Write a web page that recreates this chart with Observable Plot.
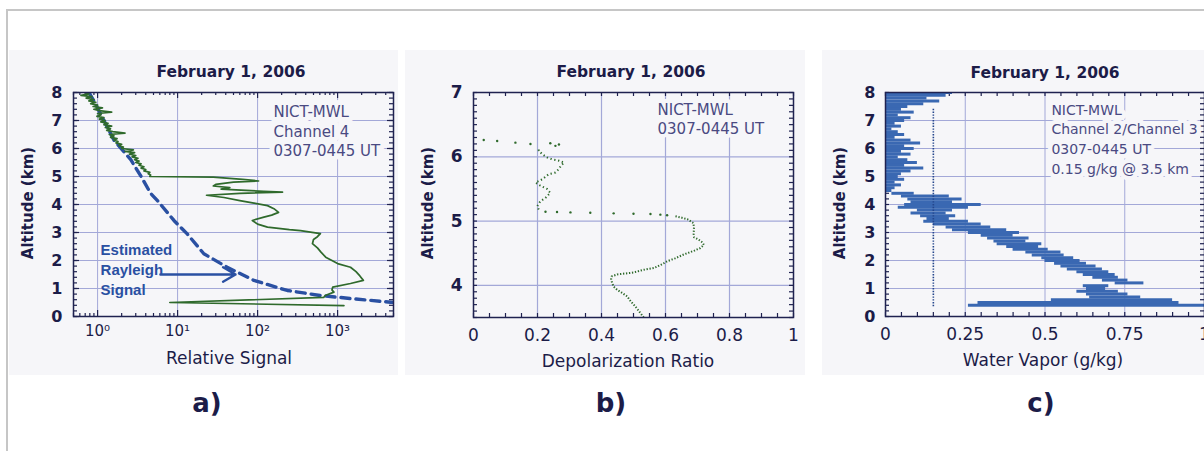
<!DOCTYPE html>
<html><head><meta charset="utf-8">
<script src="https://cdn.jsdelivr.net/npm/d3@7"></script>
<script src="https://cdn.jsdelivr.net/npm/@observablehq/plot@0.6"></script>
<style>
html,body{margin:0;padding:0;background:#fff;}
#wrap{position:relative;width:1204px;height:451px;overflow:hidden;background:#fff;font-family:"DejaVu Sans",sans-serif;color:#1c1c48;}
.bt{position:absolute;left:6px;top:9px;width:1198px;height:2px;background:#c6c6c6;}
.bl{position:absolute;left:6px;top:9px;width:2px;height:442px;background:#c6c6c6;}
.panel{position:absolute;top:50px;height:325px;background:#f6f6f9;}
.lbl{position:absolute;transform:translate(-50%,-50%);white-space:nowrap;line-height:1;}
.title{font-size:15.5px;font-weight:bold;}
.xl{font-size:17px;}
.yl{font-size:15px;font-weight:bold;transform:translate(-50%,-50%) rotate(-90deg);}
.tag{font-size:26px;font-weight:bold;}
svg.plot-svg{position:absolute;top:50px;}
</style></head>
<body><div id="wrap">
<div class="bt"></div><div class="bl"></div>
<div class="panel" style="left:9px;width:389px"></div>
<div class="panel" style="left:405px;width:400px"></div>
<div class="panel" style="left:822px;width:390px"></div>
</div>
<script>
// ---------- data ----------
const panelTitle = "February 1, 2006";
const panelTags = ["a)", "b)", "c)"];
const xLabels = ["Relative Signal", "Depolarization Ratio", "Water Vapor (g/kg)"];
const yLabel = "Altitude (km)";
const annoA = "NICT-MWL\nChannel 4\n0307-0445 UT";
const annoB = "NICT-MWL\n0307-0445 UT";
const annoC = "NICT-MWL\nChannel 2/Channel 3\n0307-0445 UT\n0.15 g/kg @ 3.5 km";
const rayleighText = "Estimated\nRayleigh\nSignal";

// panel a: [altitude km, relative signal]
const signalProfile = [
 [8.0,0.7],[7.95,0.78],[7.9,0.62],[7.85,0.85],[7.8,0.72],[7.75,0.9],[7.7,0.78],[7.65,0.95],[7.6,0.82],[7.55,1.0],
 [7.5,0.88],[7.45,1.15],[7.4,0.9],[7.35,1.05],[7.3,1.5],[7.25,1.0],[7.2,1.1],[7.15,0.98],[7.1,1.2],[7.05,1.05],
 [7.0,1.25],[6.95,1.1],[6.9,1.35],[6.85,1.2],[6.8,1.5],[6.75,1.25],[6.7,1.45],[6.65,1.3],[6.6,1.55],[6.55,2.2],
 [6.5,1.4],[6.45,1.6],[6.4,1.45],[6.35,1.75],[6.3,1.6],[6.25,1.8],[6.2,1.7],[6.15,2.0],[6.1,1.85],[6.05,2.1],
 [6.0,2.0],[5.95,2.8],[5.9,2.2],[5.85,2.9],[5.8,2.5],[5.75,3.0],[5.7,2.7],[5.65,3.2],[5.6,2.9],[5.55,3.3],
 [5.5,3.0],[5.45,3.5],[5.4,3.3],[5.35,3.8],[5.3,3.5],[5.25,4.0],[5.2,3.8],[5.15,4.5],[5.1,4.3],[5.05,4.6],
 [5.0,4.5],[4.98,28],[4.9,65],[4.84,103],[4.8,50],[4.72,30],[4.66,28],[4.6,45],[4.55,35],[4.47,120],
 [4.44,205],[4.4,60],[4.33,23],[4.25,38],[4.14,60],[4.05,90],[3.96,133],[3.85,160],[3.72,183],[3.62,150],
 [3.55,120],[3.43,86],[3.3,100],[3.19,133],[3.1,250],[3.07,344],[2.96,610],[2.85,560],[2.75,500],[2.6,485],
 [2.45,560],[2.3,620],[2.12,710],[2.0,850],[1.89,1000],[1.76,1450],[1.6,1700],[1.45,1900],[1.29,2100],[1.18,1450],
 [1.05,870],[0.95,850],[0.87,900],[0.75,700],[0.68,670],[0.5,8],[0.39,1200]
];
// panel a: estimated Rayleigh signal [altitude km, relative signal]
const rayleighProfile = [
 [8,0.78],[7.7,0.9],[7,1.2],[6.3,1.6],[5.6,2.6],[5,3.5],[4.4,4.6],[4.14,5.6],[3.43,9.0],[2.95,13.2],
 [2.24,21.3],[1.76,41.7],[1.29,90],[0.93,235],[0.75,610],[0.63,1600],[0.51,4600],[0.49,5600]
];
const rayleighArrow = [{from: 6.1, to: 53, alt: 1.5}];
const rayleighLabelPos = [{x: 1.09, y: 1.71}];

// panel b: depolarization ratio [ratio, altitude km]
const depolLower = [
 [0.532,3.5],[0.52,3.58],[0.506,3.67],[0.49,3.76],[0.48,3.83],[0.462,3.89],[0.449,3.93],[0.438,3.98],[0.433,4.04],[0.43,4.1],
 [0.432,4.14],[0.449,4.17],[0.5,4.2],[0.53,4.24],[0.564,4.27],[0.59,4.33],[0.605,4.375],[0.63,4.42],[0.657,4.48],[0.69,4.54],
 [0.709,4.58],[0.72,4.63],[0.715,4.67],[0.704,4.71],[0.689,4.75],[0.688,4.8],[0.689,4.9],[0.687,4.97],[0.668,5.03],[0.645,5.06],[0.626,5.08]
];
const depolUpper = [
 [0.204,5.18],[0.199,5.23],[0.209,5.31],[0.225,5.36],[0.24,5.44],[0.23,5.5],[0.209,5.55],[0.194,5.6],[0.215,5.65],[0.235,5.73],
 [0.256,5.755],[0.267,5.81],[0.273,5.86],[0.283,5.91],[0.267,5.94],[0.246,5.96],[0.23,5.99],[0.215,6.04],[0.204,6.094],[0.204,6.12]
];
const depolSparse = [
 [0.605,5.09],[0.584,5.1],[0.553,5.11],[0.5,5.115],[0.438,5.12],[0.365,5.13],[0.303,5.135],[0.261,5.14],[0.225,5.146],
 [0.24,6.21],[0.256,6.17],[0.267,6.19],
 [0.178,6.2],[0.131,6.22],[0.074,6.245],[0.032,6.26]
];

// panel c: water vapor rows [altitude km, low g/kg, high g/kg]
const wvRows = [
 [8.0,0,0.21],[7.9,0,0.19],[7.8,0,0.13],[7.7,0,0.17],[7.6,0,0.12],[7.5,0,0.07],[7.4,0,0.05],[7.3,0,0.09],[7.2,0,0.04],[7.1,0,0.08],
 [7.0,0,0.06],[6.9,0,0.03],[6.8,0,0.05],[6.7,0,0.02],[6.6,0,0.04],[6.5,0,0.06],[6.4,0,0.03],[6.3,0,0.08],[6.2,0,0.11],[6.1,0,0.06],
 [6.0,0,0.09],[5.9,0,0.05],[5.8,0,0.08],[5.7,0,0.04],[5.6,0,0.07],[5.5,0,0.10],[5.4,0,0.06],[5.3,0,0.12],[5.2,0,0.08],[5.1,0,0.05],
 [5.0,0,0.04],[4.9,0,0.06],[4.8,0,0.03],[4.7,0,0.05],[4.6,0,0.03],[4.5,0,0.02],[4.4,0.02,0.09],[4.3,0.05,0.20],[4.2,0.07,0.24],[4.1,0.08,0.21],
 [4.0,0.06,0.30],[3.9,0.04,0.26],[3.8,0.10,0.21],[3.7,0.08,0.19],[3.6,0.11,0.22],[3.5,0.13,0.20],[3.4,0.12,0.26],[3.3,0.15,0.30],[3.2,0.19,0.33],[3.1,0.21,0.38],
 [3.0,0.26,0.42],[2.9,0.30,0.40],[2.8,0.32,0.45],[2.7,0.34,0.44],[2.6,0.35,0.49],[2.5,0.38,0.48],[2.4,0.40,0.51],[2.3,0.44,0.55],[2.2,0.46,0.56],[2.1,0.49,0.59],
 [2.0,0.50,0.61],[1.9,0.53,0.63],[1.8,0.55,0.66],[1.7,0.57,0.68],[1.6,0.60,0.70],[1.5,0.62,0.72],[1.4,0.65,0.73],[1.3,0.68,0.76],[1.2,0.72,0.81],[1.1,0.62,0.70],
 [1.0,0.63,0.69],[0.9,0.60,0.73],[0.8,0.63,0.76],[0.7,0.64,0.80],[0.6,0.52,0.90],[0.5,0.29,0.92],[0.4,0.26,1.02]
];
const wvReference = [{value: 0.15, from: 0.35, to: 7.45}];

// tick values
const sigMajor = [1, 10, 100, 1000];
const depolTicks = [0, 0.2, 0.4, 0.6, 0.8, 1];
const wvTicks = [0, 0.25, 0.5, 0.75, 1];
const altTicks8 = [0,1,2,3,4,5,6,7,8];
const altTicksB = [4,5,6,7];

// ---------- style ----------
const GRID = "#a3a8d8", FRAME = "#1f2250", GREEN = "#2f6a2c", BLUE = "#2a50a2", WV = "#3a68b2", TXT = "#1c1c48", ANNO = "#4a4a82", BG = "#f6f6f9";
const baseStyle = {background: "transparent", fontFamily: "DejaVu Sans", fontSize: "15px", color: TXT, overflow: "visible"};
const sup = {"0":"\u2070","1":"\u00b9","2":"\u00b2","3":"\u00b3"};

function edgeTicks(xs, ys, lenX, lenY, pw, ph) {
  return [
    Plot.tickX(xs, {x: d => d, insetTop: ph - lenX, stroke: FRAME, strokeWidth: 1.2}),
    Plot.tickX(xs, {x: d => d, insetBottom: ph - lenX, stroke: FRAME, strokeWidth: 1.2}),
    Plot.tickY(ys, {y: d => d, insetRight: pw - lenY, stroke: FRAME, strokeWidth: 1.2}),
    Plot.tickY(ys, {y: d => d, insetLeft: pw - lenY, stroke: FRAME, strokeWidth: 1.2})
  ];
}
const round = v => +v.toFixed(3);

// ---------- panel a ----------
{
  const W = 390, H = 325, ML = 65, MR = 5, MT = 42, MB = 59, PW = W - ML - MR, PH = H - MT - MB;
  const logMinor = [];
  for (let e = -1; e <= 3; e++) for (let m = 2; m <= 9; m++) { const v = round(m * 10 ** e); if (v >= 0.5 && v <= 5000) logMinor.push(v); }
  const altMinor = d3.range(0, 8.01, 0.2).map(round);
  const svg = Plot.plot({
    width: W, height: H, marginLeft: ML, marginRight: MR, marginTop: MT, marginBottom: MB,
    style: baseStyle,
    x: {type: "log", domain: [0.5, 5000]},
    y: {domain: [0, 8]},
    marks: [
      Plot.gridX(sigMajor, {stroke: GRID, strokeOpacity: 1, strokeWidth: 1}),
      Plot.gridY(altTicks8, {stroke: GRID, strokeOpacity: 1, strokeWidth: 1}),
      ...edgeTicks(logMinor, altMinor, 3, 4, PW, PH),
      ...edgeTicks(sigMajor, altTicks8, 6, 6, PW, PH),
      Plot.line(rayleighProfile, {x: d => d[1], y: d => d[0], stroke: BLUE, strokeWidth: 3.4, strokeDasharray: "9,6", clip: true}),
      Plot.line(signalProfile, {x: d => d[1], y: d => d[0], stroke: GREEN, strokeWidth: 1.7, clip: true}),
      Plot.arrow(rayleighArrow, {x1: "from", x2: "to", y1: "alt", y2: "alt", stroke: BLUE, strokeWidth: 2.4, headLength: 9}),
      Plot.text(rayleighLabelPos, {x: "x", y: "y", text: () => rayleighText, textAnchor: "start", lineAnchor: "middle", lineHeight: 1.33, fill: BLUE, fontWeight: "bold", fontSize: 15, fontFamily: "Liberation Sans"}),
      Plot.text([annoA], {x: () => 158, y: () => 6.64, text: d => d, textAnchor: "start", lineAnchor: "middle", lineHeight: 1.3, fill: ANNO, stroke: BG, strokeWidth: 10, fontSize: 15}),
      Plot.frame({stroke: FRAME, strokeWidth: 1.5}),
      Plot.axisX(sigMajor, {tickSize: 0, tickPadding: 9, label: null, fontSize: 15, tickFormat: d => "10" + sup[String(Math.round(Math.log10(d)))]}),
      Plot.axisY(altTicks8, {tickSize: 0, tickPadding: 11, label: null, fontSize: 16, fontWeight: "bold", tickFormat: d => String(d)})
    ]
  });
  svg.classList.add("plot-svg"); svg.style.left = "8px";
  document.getElementById("wrap").appendChild(svg);
}

// ---------- panel b ----------
{
  const W = 400, H = 325, ML = 68, MR = 12, MT = 42, MB = 58, PW = W - ML - MR, PH = H - MT - MB;
  const xMinor = d3.range(0, 1.001, 0.05).map(round);
  const yMinor = d3.range(3.5, 7.001, 0.1).map(round);
  const svg = Plot.plot({
    width: W, height: H, marginLeft: ML, marginRight: MR, marginTop: MT, marginBottom: MB,
    style: baseStyle,
    x: {domain: [0, 1]},
    y: {domain: [3.5, 7]},
    marks: [
      Plot.gridX([0.2, 0.4, 0.6, 0.8], {stroke: GRID, strokeOpacity: 1, strokeWidth: 1.2}),
      Plot.gridY([4, 5, 6], {stroke: GRID, strokeOpacity: 1, strokeWidth: 1.2}),
      ...edgeTicks(xMinor, yMinor, 4, 4, PW, PH),
      Plot.line(depolLower, {x: d => d[0], y: d => d[1], stroke: GREEN, strokeWidth: 2, strokeDasharray: "1.3,1.7", strokeLinecap: "butt", clip: true}),
      Plot.line(depolUpper, {x: d => d[0], y: d => d[1], stroke: GREEN, strokeWidth: 2, strokeDasharray: "1.3,2.6", strokeLinecap: "butt", clip: true}),
      Plot.dot(depolSparse, {x: d => d[0], y: d => d[1], r: 1.2, fill: GREEN, stroke: null}),
      Plot.text([annoB], {x: () => 0.575, y: () => 6.6, text: d => d, textAnchor: "start", lineAnchor: "middle", lineHeight: 1.27, fill: ANNO, stroke: BG, strokeWidth: 8, fontSize: 15}),
      Plot.frame({stroke: FRAME, strokeWidth: 1.5}),
      Plot.axisX(depolTicks, {tickSize: 0, tickPadding: 11, label: null, fontSize: 17, tickFormat: d => String(d)}),
      Plot.axisY(altTicksB, {tickSize: 0, tickPadding: 11, label: null, fontSize: 17, fontWeight: "bold", tickFormat: d => String(d)})
    ]
  });
  svg.classList.add("plot-svg"); svg.style.left = "405px";
  document.getElementById("wrap").appendChild(svg);
}

// ---------- panel c ----------
{
  const W = 388, H = 325, ML = 63, MR = 6, MT = 42, MB = 59, PW = W - ML - MR, PH = H - MT - MB;
  const xMinor = d3.range(0, 1.001, 0.05).map(round);
  const yMinor = d3.range(0, 8.001, 0.2).map(round);
  const svg = Plot.plot({
    width: W, height: H, marginLeft: ML, marginRight: MR, marginTop: MT, marginBottom: MB,
    style: baseStyle,
    x: {domain: [0, 1]},
    y: {domain: [0, 8]},
    marks: [
      Plot.gridX([0.25, 0.5, 0.75], {stroke: GRID, strokeOpacity: 1, strokeWidth: 1}),
      Plot.gridY(altTicks8, {stroke: GRID, strokeOpacity: 1, strokeWidth: 1}),
      ...edgeTicks(xMinor, yMinor, 4, 4, PW, PH),
      Plot.ruleY(wvRows, {y: d => d[0], x1: d => d[1], x2: d => d[2], stroke: WV, strokeWidth: 3, clip: true}),
      Plot.ruleX(wvReference, {x: "value", y1: "from", y2: "to", stroke: "#24468c", strokeWidth: 1.6, strokeDasharray: "1.4,1.4"}),
      Plot.text([annoC], {x: () => 0.52, y: () => 6.375, text: d => d, textAnchor: "start", lineAnchor: "middle", lineHeight: 1.4, fill: ANNO, stroke: BG, strokeWidth: 9, fontSize: 14}),
      Plot.frame({stroke: FRAME, strokeWidth: 1.5}),
      Plot.axisX(wvTicks, {tickSize: 0, tickPadding: 11, label: null, fontSize: 17, tickFormat: d => String(d)}),
      Plot.axisY(altTicks8, {tickSize: 0, tickPadding: 10, label: null, fontSize: 16, fontWeight: "bold", tickFormat: d => String(d)})
    ]
  });
  svg.classList.add("plot-svg"); svg.style.left = "822px";
  document.getElementById("wrap").appendChild(svg);
}

// ---------- titles and labels ----------
const wrap = document.getElementById("wrap");
function addLabel(text, cls, x, y) {
  const d = document.createElement("div");
  d.className = "lbl " + cls; d.textContent = text;
  d.style.left = x + "px"; d.style.top = y + "px";
  wrap.appendChild(d);
}
[[231, 73], [631, 73], [1045, 74]].forEach(([x, y]) => addLabel(panelTitle, "title", x, y));
[[229, 358], [628, 361], [1043, 360]].forEach(([x, y], i) => addLabel(xLabels[i], "xl", x, y));
[[28, 203], [428, 203], [840, 203]].forEach(([x, y]) => addLabel(yLabel, "yl", x, y));
[[207, 403], [611, 403], [1041, 403]].forEach(([x, y], i) => addLabel(panelTags[i], "tag", x, y));
</script>
</body></html>
